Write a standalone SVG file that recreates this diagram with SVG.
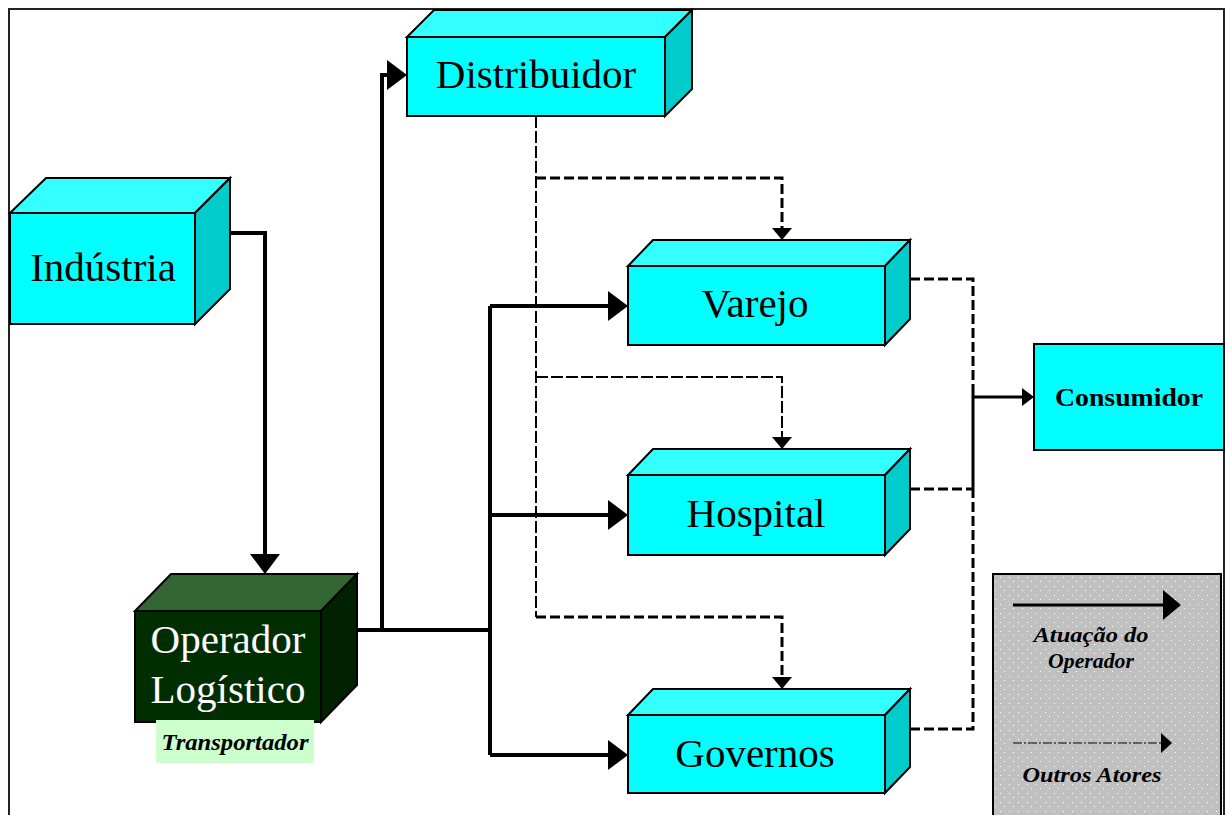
<svg xmlns="http://www.w3.org/2000/svg" width="1226" height="815" viewBox="0 0 1226 815">
  <style>
    .front { fill: #00ffff; stroke: #000; stroke-width: 2; }
    .top { fill: #33ffff; stroke: #000; stroke-width: 2; stroke-linejoin: miter; }
    .side { fill: #00cccc; stroke: #000; stroke-width: 2; }
    .lbl { font-family: "Liberation Serif", "Times New Roman", serif; font-size: 41px; fill: #000; text-anchor: middle; }
    .thick { fill: none; stroke: #000; stroke-width: 4; }
    .dash { fill: none; stroke: #000; stroke-width: 2; stroke-dasharray: 12 3; }
    .dash3 { fill: none; stroke: #000; stroke-width: 3; stroke-dasharray: 10 4; }
    .thin { fill: none; stroke: #000; stroke-width: 3; }
    .bi { font-family: "Liberation Serif", "Times New Roman", serif; font-weight: bold; font-style: italic; fill: #000; text-anchor: middle; }
  </style>
  <defs>
    <marker id="headBig" markerUnits="userSpaceOnUse" markerWidth="20" markerHeight="30" refX="10" refY="15" orient="auto" viewBox="0 0 20 30">
      <path d="M0,0 L20,15 L0,30 Z" fill="#000"/>
    </marker>
    <marker id="headSmall" markerUnits="userSpaceOnUse" markerWidth="12" markerHeight="20" refX="6" refY="10" orient="auto" viewBox="0 0 12 20">
      <path d="M0,0 L12,10 L0,20 Z" fill="#000"/>
    </marker>
    <marker id="headCons" markerUnits="userSpaceOnUse" markerWidth="12" markerHeight="18" refX="6" refY="9" orient="auto" viewBox="0 0 12 18">
      <path d="M0,0 L12,9 L0,18 Z" fill="#000"/>
    </marker>
    <marker id="headLegend" markerUnits="userSpaceOnUse" markerWidth="18" markerHeight="30" refX="9" refY="15" orient="auto" viewBox="0 0 18 30">
      <path d="M0,0 L18,15 L0,30 Z" fill="#000"/>
    </marker>
    <marker id="headLegendDash" markerUnits="userSpaceOnUse" markerWidth="11" markerHeight="20" refX="5" refY="10" orient="auto" viewBox="0 0 11 20">
      <path d="M0,0 L11,10 L0,20 Z" fill="#000"/>
    </marker>
    <pattern id="dots" patternUnits="userSpaceOnUse" width="9" height="9">
      <rect width="9" height="9" fill="#c0c0c0"/>
      <rect x="1" y="1" width="1" height="1" fill="#ffffff"/>
      <rect x="5" y="5" width="1" height="1" fill="#ffffff"/>
    </pattern>
  </defs>

  <rect width="1226" height="815" fill="#ffffff"/>
  <!-- outer frame -->
  <path d="M9,815 V9 H1224 V815" fill="none" stroke="#222" stroke-width="2"/>

  <!-- connectors -->
  <g id="connectors">
    <!-- operator flows (solid) -->
    <path class="thick" d="M230,233 H265 V564" marker-end="url(#headBig)"/>
    <path class="thick" d="M357,630 H490"/>
    <path class="thick" d="M382,630 V75 H397" marker-end="url(#headBig)"/>
    <path class="thick" d="M490,306 V755"/>
    <path class="thick" d="M490,306 H618" marker-end="url(#headBig)"/>
    <path class="thick" d="M490,515 H618" marker-end="url(#headBig)"/>
    <path class="thick" d="M490,755 H618" marker-end="url(#headBig)"/>

    <!-- distributor flows (dashed) -->
    <path class="dash" d="M536,116 V617"/>
    <path class="dash3" d="M536,178 H782 V234" marker-end="url(#headSmall)"/>
    <path class="dash" d="M536,377 H782 V443" marker-end="url(#headSmall)"/>
    <path class="dash3" d="M536,617 H782 V683" marker-end="url(#headSmall)"/>

    <!-- outlets to consumer -->
    <path class="dash3" d="M910,279 H973 V390"/>
    <path class="thin" d="M973,390 V489"/>
    <path class="dash3" d="M910,489 H973"/>
    <path class="dash3" d="M910,729 H973 V489"/>
    <path class="thin" d="M973,397 H1028" marker-end="url(#headCons)"/>
  </g>

  <g id="industria">
    <rect class="front" x="10" y="213" width="185" height="111"/>
    <polygon class="top" points="10,213 46,178 230,178 195,213"/>
    <polygon class="side" points="195,213 230,178 230,289 195,324"/>
    <text class="lbl" x="103" y="281">Indústria</text>
  </g>

  <g id="distribuidor">
    <rect class="front" x="407" y="37" width="258" height="79"/>
    <polygon class="top" points="407,37 434,10 692,10 665,37"/>
    <polygon class="side" points="665,37 692,10 692,89 665,116"/>
    <text class="lbl" x="536" y="88">Distribuidor</text>
  </g>

  <g id="varejo">
    <rect class="front" x="628" y="266" width="257" height="79"/>
    <polygon class="top" points="628,266 653,240 910,240 885,266"/>
    <polygon class="side" points="885,266 910,240 910,319 885,345"/>
    <text class="lbl" x="755" y="317">Varejo</text>
  </g>

  <g id="hospital">
    <rect class="front" x="628" y="475" width="257" height="80"/>
    <polygon class="top" points="628,475 653,449 910,449 885,475"/>
    <polygon class="side" points="885,475 910,449 910,529 885,555"/>
    <text class="lbl" x="756" y="527">Hospital</text>
  </g>

  <g id="governos">
    <rect class="front" x="628" y="715" width="257" height="78"/>
    <polygon class="top" points="628,715 653,689 910,689 885,715"/>
    <polygon class="side" points="885,715 910,689 910,767 885,793"/>
    <text class="lbl" x="755" y="767">Governos</text>
  </g>

  <g id="consumidor">
    <rect x="1034" y="344" width="190" height="106" fill="#00ffff" stroke="#000" stroke-width="2"/>
    <text x="1129" y="406" font-family="Liberation Serif, Times New Roman, serif" font-weight="bold" font-size="26" text-anchor="middle" textLength="148" lengthAdjust="spacingAndGlyphs">Consumidor</text>
  </g>

  <g id="operador">
    <rect x="135" y="611" width="186" height="111" fill="#002e00" stroke="#000" stroke-width="2"/>
    <polygon points="135,611 171,574 357,574 321,611" fill="#336633" stroke="#000" stroke-width="2"/>
    <polygon points="321,611 357,574 357,685 321,722" fill="#002200" stroke="#000" stroke-width="2"/>
    <text class="lbl" x="228" y="653" fill="#ffffff" style="fill:#ffffff">Operador</text>
    <text class="lbl" x="228" y="703" style="fill:#ffffff">Logístico</text>
  </g>

  <g id="transportador">
    <rect x="156" y="720" width="158" height="43" fill="#ccffcc"/>
    <text class="bi" x="235" y="750" font-size="23" textLength="147" lengthAdjust="spacingAndGlyphs">Transportador</text>
  </g>

  <g id="legenda">
    <rect x="993" y="574" width="228" height="250" fill="url(#dots)" stroke="#000" stroke-width="2"/>
    <path d="M1013,605 H1172" stroke="#000" stroke-width="3" fill="none" marker-end="url(#headLegend)"/>
    <text class="bi" x="1091" y="642" font-size="20" textLength="115" lengthAdjust="spacingAndGlyphs">Atuação do</text>
    <text class="bi" x="1091" y="668" font-size="20" textLength="86" lengthAdjust="spacingAndGlyphs">Operador</text>
    <path d="M1013,743 H1166" stroke="#000" stroke-width="1" stroke-dasharray="9 2 2 2" fill="none" marker-end="url(#headLegendDash)"/>
    <text class="bi" x="1092" y="782" font-size="20" textLength="139" lengthAdjust="spacingAndGlyphs">Outros Atores</text>
  </g>
</svg>
